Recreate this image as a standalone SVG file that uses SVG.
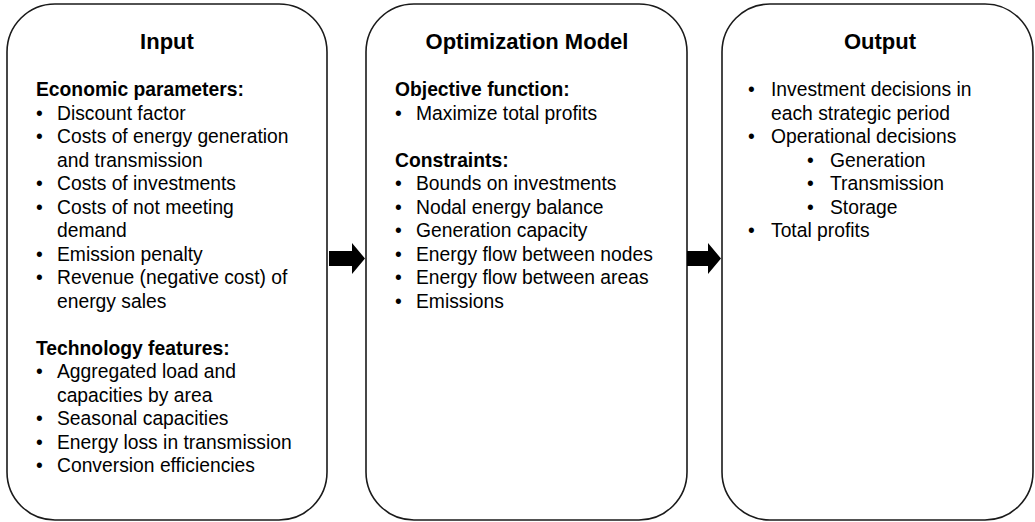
<svg xmlns="http://www.w3.org/2000/svg" width="1035" height="522" viewBox="0 0 1035 522">
<style>
.box{fill:#fff;stroke:#1a1a1a;stroke-width:1.6}
text{font-family:"Liberation Sans",Arial,sans-serif;fill:#000}
.t{font-size:22px;font-weight:bold;text-anchor:middle}
.h{font-size:19.3px;font-weight:bold}
.b{font-size:19.3px}
.arr{fill:#000}
</style>
<rect width="1035" height="522" fill="#fff"/>
<g id="input">
<rect class="box" x="7" y="4" width="320" height="516" rx="48" ry="48"/>
<text class="t" x="167" y="49">Input</text>
<text class="h" x="36" y="96">Economic parameters:</text>
<text class="b" x="36" y="119.5">•</text><text class="b" x="57" y="119.5">Discount factor</text>
<text class="b" x="36" y="143">•</text><text class="b" x="57" y="143">Costs of energy generation</text>
<text class="b" x="57" y="166.5">and transmission</text>
<text class="b" x="36" y="190">•</text><text class="b" x="57" y="190">Costs of investments</text>
<text class="b" x="36" y="213.5">•</text><text class="b" x="57" y="213.5">Costs of not meeting</text>
<text class="b" x="57" y="237">demand</text>
<text class="b" x="36" y="260.5">•</text><text class="b" x="57" y="260.5">Emission penalty</text>
<text class="b" x="36" y="284">•</text><text class="b" x="57" y="284">Revenue (negative cost) of</text>
<text class="b" x="57" y="307.5">energy sales</text>
<text class="h" x="36" y="354.5">Technology features:</text>
<text class="b" x="36" y="378">•</text><text class="b" x="57" y="378">Aggregated load and</text>
<text class="b" x="57" y="401.5">capacities by area</text>
<text class="b" x="36" y="425">•</text><text class="b" x="57" y="425">Seasonal capacities</text>
<text class="b" x="36" y="448.5">•</text><text class="b" x="57" y="448.5">Energy loss in transmission</text>
<text class="b" x="36" y="472">•</text><text class="b" x="57" y="472">Conversion efficiencies</text>
</g>
<g id="model">
<rect class="box" x="366" y="4" width="321" height="516" rx="48" ry="48"/>
<text class="t" x="527" y="49">Optimization Model</text>
<text class="h" x="395" y="96">Objective function:</text>
<text class="b" x="395" y="119.5">•</text><text class="b" x="416" y="119.5">Maximize total profits</text>
<text class="h" x="395" y="166.5">Constraints:</text>
<text class="b" x="395" y="190">•</text><text class="b" x="416" y="190">Bounds on investments</text>
<text class="b" x="395" y="213.5">•</text><text class="b" x="416" y="213.5">Nodal energy balance</text>
<text class="b" x="395" y="237">•</text><text class="b" x="416" y="237">Generation capacity</text>
<text class="b" x="395" y="260.5">•</text><text class="b" x="416" y="260.5">Energy flow between nodes</text>
<text class="b" x="395" y="284">•</text><text class="b" x="416" y="284">Energy flow between areas</text>
<text class="b" x="395" y="307.5">•</text><text class="b" x="416" y="307.5">Emissions</text>
</g>
<g id="output">
<rect class="box" x="722" y="4" width="311" height="516" rx="48" ry="48"/>
<text class="t" x="880" y="49">Output</text>
<text class="b" x="748" y="96">•</text><text class="b" x="771" y="96">Investment decisions in</text>
<text class="b" x="771" y="119.5">each strategic period</text>
<text class="b" x="748" y="143">•</text><text class="b" x="771" y="143">Operational decisions</text>
<text class="b" x="807" y="166.5">•</text><text class="b" x="830" y="166.5">Generation</text>
<text class="b" x="807" y="190">•</text><text class="b" x="830" y="190">Transmission</text>
<text class="b" x="807" y="213.5">•</text><text class="b" x="830" y="213.5">Storage</text>
<text class="b" x="748" y="237">•</text><text class="b" x="771" y="237">Total profits</text>
</g>
<g id="connectors">
<polygon class="arr" points="329,251 352,251 352,243 365,258.5 352,274 352,266 329,266"/>
<polygon class="arr" points="687,251 708,251 708,243 721,258.5 708,274 708,266 687,266"/>
</g>
</svg>
